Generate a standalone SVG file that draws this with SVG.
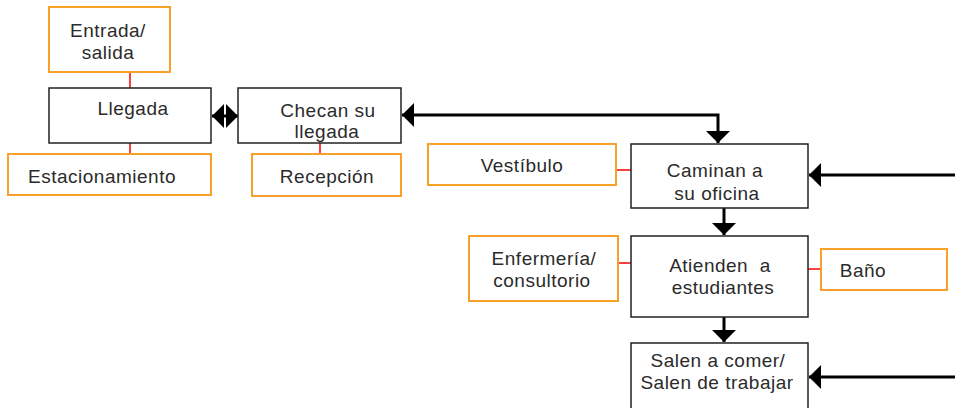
<svg xmlns="http://www.w3.org/2000/svg" width="955" height="408" viewBox="0 0 955 408">
<defs>
<style>
.b{fill:#fff;stroke:#222;stroke-width:1.5}
.o{fill:#fff;stroke:#f7a12a;stroke-width:2}
.r{stroke:#ff0000;stroke-width:1.5;fill:none}
.c{stroke:#000;stroke-width:3;fill:none}
text{font-family:"Liberation Sans",Arial,sans-serif;font-size:19px;letter-spacing:0.5px;fill:#2b2b2b;text-anchor:middle}
</style>
<marker id="ah" markerUnits="userSpaceOnUse" markerWidth="13" markerHeight="24" refX="12" refY="12" orient="auto-start-reverse" viewBox="0 0 13 24">
<path d="M0,0 L12,12 L0,24 z" fill="#000"/>
</marker>
</defs>
<g id="connectors">
<line class="r" x1="130" y1="72" x2="130" y2="88"/>
<line class="r" x1="130" y1="143" x2="130" y2="154"/>
<line class="r" x1="320" y1="143" x2="320" y2="154"/>
<line class="r" x1="616" y1="170" x2="631" y2="170"/>
<line class="r" x1="618" y1="263" x2="631" y2="263"/>
<line class="r" x1="808" y1="269" x2="821" y2="269"/>
<line class="c" x1="212" y1="116" x2="238" y2="116" marker-start="url(#ah)" marker-end="url(#ah)"/>
<polyline class="c" points="402,115 718,115 718,143" marker-start="url(#ah)" marker-end="url(#ah)"/>
<line class="c" x1="955" y1="175" x2="809" y2="175" marker-end="url(#ah)"/>
<line class="c" x1="724" y1="208" x2="724" y2="235" marker-end="url(#ah)"/>
<line class="c" x1="724" y1="317" x2="724" y2="342" marker-end="url(#ah)"/>
<line class="c" x1="955" y1="377" x2="809" y2="377" marker-end="url(#ah)"/>
</g>
<g id="entrada">
<rect class="o" x="49" y="7" width="121" height="65"/>
<text x="108" y="37">Entrada/</text>
<text x="108" y="59">salida</text>
</g>
<g id="llegada">
<rect class="b" x="49" y="88" width="162" height="55"/>
<text x="133" y="115">Llegada</text>
</g>
<g id="estacionamiento">
<rect class="o" x="8" y="154" width="203" height="41"/>
<text x="102" y="183">Estacionamiento</text>
</g>
<g id="checan">
<rect class="b" x="238" y="88" width="163" height="55"/>
<text x="328" y="117">Checan su</text>
<text x="327" y="138">llegada</text>
</g>
<g id="recepcion">
<rect class="o" x="252" y="154" width="149" height="42"/>
<text x="327" y="183">Recepción</text>
</g>
<g id="vestibulo">
<rect class="o" x="428" y="144" width="188" height="41"/>
<text x="522" y="172">Vestíbulo</text>
</g>
<g id="caminan">
<rect class="b" x="631" y="144" width="177" height="64"/>
<text x="715" y="177">Caminan a</text>
<text x="717" y="200">su oficina</text>
</g>
<g id="enfermeria">
<rect class="o" x="469" y="236" width="149" height="65"/>
<text x="544" y="265">Enfermería/</text>
<text x="542" y="287">consultorio</text>
</g>
<g id="atienden">
<rect class="b" x="631" y="236" width="177" height="81"/>
<text x="720" y="272" xml:space="preserve">Atienden  a</text>
<text x="723" y="294">estudiantes</text>
</g>
<g id="bano">
<rect class="o" x="821" y="249" width="126" height="41"/>
<text x="863" y="277">Baño</text>
</g>
<g id="salen">
<rect class="b" x="631" y="343" width="177" height="70"/>
<text x="718" y="367">Salen a comer/</text>
<text x="717" y="389">Salen de trabajar</text>
</g>
</svg>
